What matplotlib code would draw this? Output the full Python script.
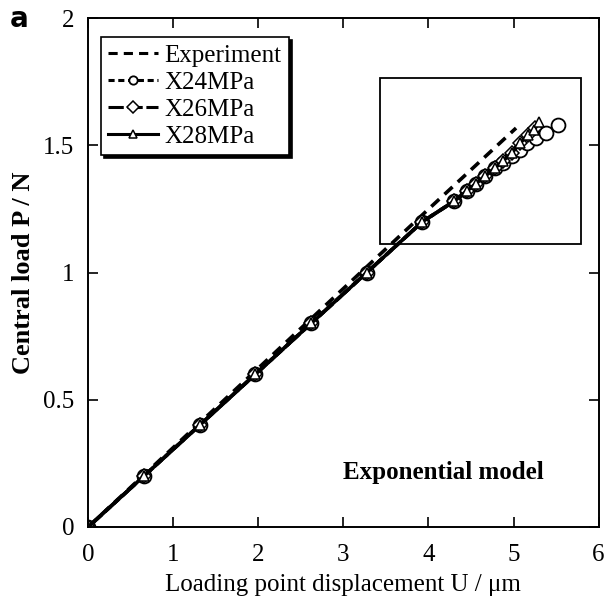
import numpy as np
import matplotlib.pyplot as plt
from matplotlib.patches import Rectangle

plt.rcParams['font.family'] = ['Liberation Serif', 'DejaVu Serif']

# Experiment (straight dashed line)
exp_u = [0.0, 1.0, 2.0, 3.0, 4.0, 5.03]
exp_p = [0.0, 0.312, 0.624, 0.937, 1.249, 1.568]

# simulations, displacement (um) and load (N)
x24_u = [0.0, 0.655, 1.31, 1.965, 2.62, 3.275, 3.93, 4.3, 4.45, 4.56, 4.67, 4.78,
         4.88, 4.98, 5.08, 5.16, 5.26, 5.38, 5.52]
x24_p = [0.0, 0.2, 0.4, 0.6, 0.8, 1.0, 1.2, 1.28, 1.32, 1.35, 1.38, 1.41,
         1.43, 1.46, 1.48, 1.51, 1.53, 1.55, 1.58]

x26_u = [0.0, 0.655, 1.31, 1.965, 2.62, 3.275, 3.93, 4.3, 4.45, 4.56, 4.67, 4.78,
         4.88, 4.98, 5.08, 5.17, 5.25]
x26_p = [0.0, 0.2, 0.4, 0.6, 0.8, 1.0, 1.2, 1.28, 1.32, 1.35, 1.38, 1.41,
         1.44, 1.47, 1.51, 1.54, 1.57]

x28_u = [0.0, 0.655, 1.31, 1.965, 2.62, 3.275, 3.93, 4.3, 4.45, 4.56, 4.67, 4.78,
         4.88, 4.98, 5.08, 5.17, 5.24, 5.3]
x28_p = [0.0, 0.2, 0.4, 0.6, 0.8, 1.0, 1.2, 1.28, 1.32, 1.35, 1.38, 1.41,
         1.44, 1.47, 1.51, 1.54, 1.56, 1.59]

fig = plt.figure(figsize=(6.04, 6.05), dpi=100)
ax = fig.add_axes([0.146, 0.129, 0.845, 0.841])

ax.plot(exp_u, exp_p, color='black', ls=(0, (3, 2)), lw=2.6, label='Experiment')
ax.plot(x24_u, x24_p, color='black', ls=(0, (2, 1.2)), lw=2.6, marker='o', ms=10,
        mfc='white', mec='black', mew=1.3, label='X24MPa')
ax.plot(x26_u, x26_p, color='black', ls=(0, (5, 1.2)), lw=2.6, marker='D', ms=7,
        mfc='white', mec='black', mew=1.1, label='X26MPa')
ax.plot(x28_u, x28_p, color='black', ls='-', lw=2.6, marker='^', ms=7,
        mfc='white', mec='black', mew=1.1, label='X28MPa')

# zoom box
ax.add_patch(Rectangle((3.43, 1.112), 2.36, 0.652, fill=False, ec='black', lw=1.3))

ax.set_xlim(0, 6)
ax.set_ylim(0, 2)
ax.set_xticks([0, 1, 2, 3, 4, 5, 6])
ax.set_yticks([0, 0.5, 1, 1.5, 2])
ax.set_yticklabels(['0', '0.5', '1', '1.5', '2'])
ax.tick_params(direction='in', top=True, right=True, length=7, width=1.2,
               labelsize=18)
ax.tick_params(axis='x', pad=12)
ax.tick_params(axis='y', pad=10)
for s in ax.spines.values():
    s.set_linewidth(1.4)

ax.set_xlabel('Loading point displacement U / μm', fontsize=18, labelpad=6)
ax.set_ylabel('Central load P / N', fontsize=19, fontweight='bold', labelpad=6)

ax.text(4.17, 0.216, 'Exponential model', fontsize=18, fontweight='bold',
        ha='center', va='center')

leg = ax.legend(loc='upper left', bbox_to_anchor=(0.025, 0.963), fontsize=18,
                frameon=True, fancybox=False,
                shadow={'color': 'black', 'alpha': 1.0}, edgecolor='black',
                handlelength=2.0, handletextpad=0.25, borderpad=0.3,
                labelspacing=0.18, borderaxespad=0)
leg.get_frame().set_linewidth(1.2)
for h in leg.legend_handles:
    h.set_markersize(6)
    h.set_linewidth(2.2)

fig.text(0.016, 0.955, 'a', fontsize=20, fontweight='bold', family='DejaVu Sans')

fig.savefig('out.png', dpi=100)
